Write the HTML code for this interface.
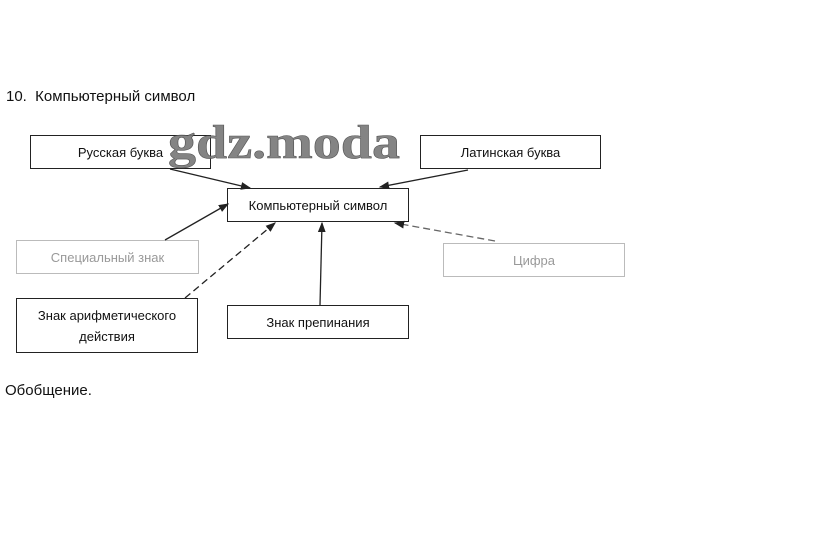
<!DOCTYPE html>
<html><head><meta charset="utf-8"><style>
body{margin:0;background:#fff;width:823px;height:536px;position:relative;overflow:hidden;font-family:"Liberation Sans","Noto Sans CJK SC",sans-serif;color:#111}
.t{position:absolute;font-size:15px;white-space:nowrap}
.b{position:absolute;border:1.5px solid #222;box-sizing:border-box;display:flex;align-items:center;justify-content:center;text-align:center;font-size:13px;line-height:21px;background:#fff}
.l{border-color:#bbb;color:#999}
</style></head><body>
<div class="t" style="left:6px;top:88px">10.&nbsp; Компьютерный символ</div>
<div class="t" style="left:5px;top:382px">Обобщение.</div>
<div class="b" style="left:30px;top:135px;width:181px;height:34px">Русская буква</div>
<div class="b" style="left:420px;top:135px;width:181px;height:34px">Латинская буква</div>
<div class="b" style="left:227px;top:188px;width:182px;height:34px">Компьютерный символ</div>
<div class="b l" style="left:16px;top:240px;width:183px;height:34px">Специальный знак</div>
<div class="b l" style="left:443px;top:243px;width:182px;height:34px">Цифра</div>
<div class="b" style="left:16px;top:298px;width:182px;height:55px">Знак арифметического<br>действия</div>
<div class="b" style="left:227px;top:305px;width:182px;height:34px">Знак препинания</div>
<svg width="823" height="536" style="position:absolute;left:0;top:0">
<defs><marker id="a" markerWidth="8" markerHeight="8" refX="7" refY="4" orient="auto"><path d="M0,1 L8,4 L0,7z" fill="#222"/></marker></defs>
<g stroke="#222" stroke-width="1.3" fill="none" marker-end="url(#a)">
<line x1="170" y1="169" x2="250" y2="188"/>
<line x1="468" y1="170" x2="380" y2="187"/>
<line x1="165" y1="240" x2="228" y2="204"/>
<line x1="185" y1="298" x2="275" y2="223" stroke-dasharray="7,4"/>
<line x1="320" y1="305" x2="322" y2="223"/>
<line x1="495" y1="241" x2="395" y2="223" stroke-dasharray="7,4" stroke="#666"/>
</g>
<text x="168" y="158" textLength="232" lengthAdjust="spacingAndGlyphs" font-family="Liberation Serif,serif" font-size="48" font-weight="bold" fill="#777" stroke="#444" stroke-width="0.6" opacity="0.9">gdz.moda</text>
</svg>
</body></html>
